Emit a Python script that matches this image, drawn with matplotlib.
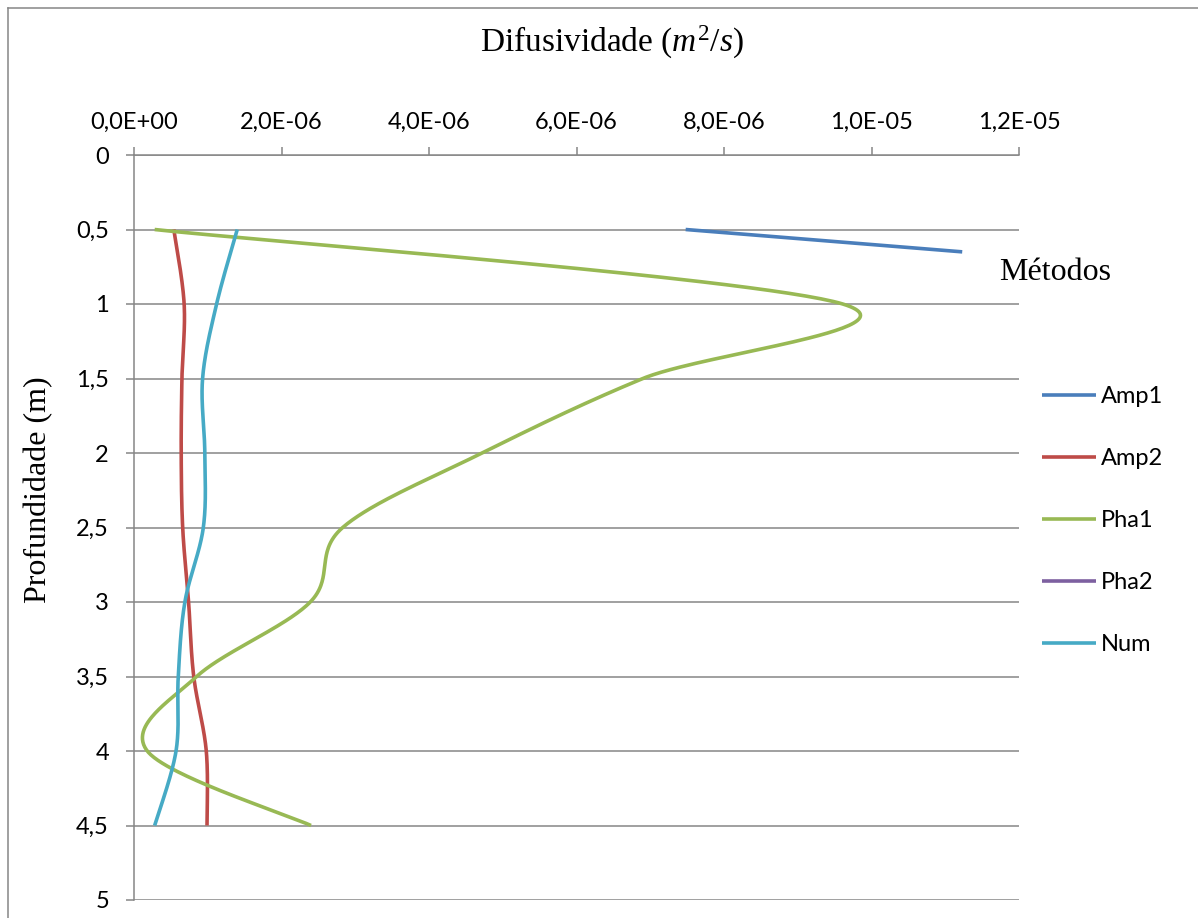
import numpy as np
import matplotlib
matplotlib.use("Agg")
import matplotlib.pyplot as plt
from matplotlib.ticker import FuncFormatter, MultipleLocator
from matplotlib.lines import Line2D

plt.rcParams['mathtext.fontset'] = 'custom'
plt.rcParams['mathtext.rm'] = 'Liberation Serif'
plt.rcParams['mathtext.it'] = 'Liberation Serif:italic'

# profundidade (m) e difusividade (m2/s) por metodo
depth_amp1 = [0.5, 0.65]
amp1 = [7.48e-6, 11.23e-6]

depth = [0.5, 1.0, 1.5, 2.0, 2.5, 3.0, 3.5, 4.0, 4.5]
amp2 = [0.54e-6, 0.68e-6, 0.65e-6, 0.64e-6, 0.66e-6, 0.74e-6, 0.81e-6, 0.98e-6, 0.99e-6]
pha1 = [0.28e-6, 9.61e-6, 6.90e-6, 4.72e-6, 2.83e-6, 2.39e-6, 0.85e-6, 0.18e-6, 2.40e-6]
pha2 = []
num = [1.40e-6, 1.12e-6, 0.93e-6, 0.96e-6, 0.94e-6, 0.69e-6, 0.60e-6, 0.57e-6, 0.28e-6]

labels = ['Amp1', 'Amp2', 'Pha1', 'Pha2', 'Num']
colors = ['#4A7EBB', '#BE4B48', '#98B954', '#7D60A0', '#46AAC5']

W, H = 1198, 918
X0, X1, Y0, Y1 = 134, 1019, 155, 900
XMAX, YMAX = 1.2e-5, 5.0
SX = (X1 - X0) / XMAX
SY = (Y1 - Y0) / YMAX


def smooth(xs, ys, n=60):
    # curva suavizada tipo excel (bezier com tangentes catmull-rom, em pixels)
    if len(xs) < 3:
        return np.asarray(xs), np.asarray(ys)
    P = np.column_stack([np.asarray(xs) * SX, np.asarray(ys) * SY])
    out = []
    t = np.linspace(0, 1, n)[:, None]
    for i in range(len(P) - 1):
        p0 = P[max(i - 1, 0)]
        p1 = P[i]
        p2 = P[i + 1]
        p3 = P[min(i + 2, len(P) - 1)]
        c1 = p1 + (p2 - p0) / 6.0
        c2 = p2 - (p3 - p1) / 6.0
        seg = (1 - t)**3 * p1 + 3 * (1 - t)**2 * t * c1 + 3 * (1 - t) * t**2 * c2 + t**3 * p2
        out.append(seg if i == 0 else seg[1:])
    pts = np.vstack(out)
    return pts[:, 0] / SX, pts[:, 1] / SY


fig = plt.figure(figsize=(W / 100, H / 100), dpi=100)
ax = fig.add_axes([X0 / W, 1 - Y1 / H, (X1 - X0) / W, (Y1 - Y0) / H])

grey = '#868686'
LW = 2.6
series = [(amp1, depth_amp1), (amp2, depth), (pha1, depth), (pha2, []), (num, depth)]
for (xv, yv), lab, c in zip(series, labels, colors):
    sx_, sy_ = smooth(xv, yv)
    ax.plot(sx_, sy_, color=c, lw=LW, label=lab, solid_capstyle='butt', zorder=3)

ax.set_xlim(0, XMAX)
ax.set_ylim(YMAX, 0)
ax.xaxis.set_major_locator(MultipleLocator(2e-6))
ax.yaxis.set_major_locator(MultipleLocator(0.5))
ax.xaxis.set_major_formatter(FuncFormatter(lambda v, p: f"{v:.1E}".replace('.', ',')))
ax.yaxis.set_major_formatter(FuncFormatter(lambda v, p: f"{v:g}".replace('.', ',')))
ax.xaxis.tick_top()

ax.grid(axis='y', color=grey, lw=1.1)
ax.set_axisbelow(True)
for s in ['right', 'bottom']:
    ax.spines[s].set_visible(False)
for s in ['left', 'top']:
    ax.spines[s].set_color(grey)
    ax.spines[s].set_linewidth(1.1)

ax.tick_params(axis='x', direction='out', length=6, width=1.1, color=grey, pad=10,
               labelsize=17, labelfontfamily='Lato')
ax.tick_params(axis='y', direction='out', length=6, width=1.1, color=grey, pad=12,
               labelsize=17, labelfontfamily='Lato')

fig.text(612 / W, 1 - 42 / H, r'Difusividade $(m^2/s)$', ha='center', va='center',
         fontsize=24, family='Liberation Serif')
fig.text(39 / W, 1 - 490 / H, 'Profundidade (m)', ha='center', va='center',
         rotation=90, fontsize=23, family='Liberation Serif')
fig.text(1055 / W, 1 - 273 / H, 'Métodos', ha='center', va='center',
         fontsize=23, family='Liberation Serif')

leg = fig.legend(loc='upper left', bbox_to_anchor=(1042 / W, 1 - 386 / H), frameon=False,
                 prop={'family': 'Lato', 'size': 17}, handlelength=2.3,
                 handletextpad=0.2, labelspacing=1.74, borderpad=0, borderaxespad=0)
for h in leg.get_lines():
    h.set_linewidth(LW)

# moldura da figura
fig.add_artist(Line2D([7.5 / W, 7.5 / W], [0, 1 - 7.5 / H], color=grey, lw=1.1))
fig.add_artist(Line2D([7.5 / W, 1], [1 - 7.5 / H, 1 - 7.5 / H], color=grey, lw=1.1))

fig.savefig('out.png', dpi=100)
